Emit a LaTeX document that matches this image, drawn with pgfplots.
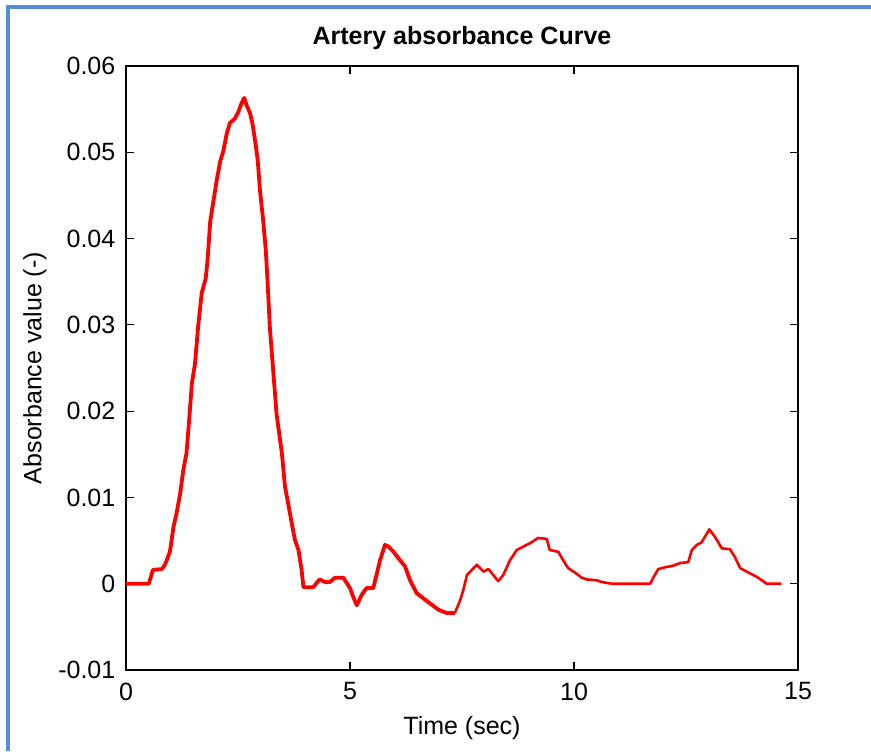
\documentclass[border=0pt]{standalone}
\usepackage{fontspec}
\setmainfont{Liberation Sans}
\usepackage{pgfplots}
\pgfplotsset{compat=1.18}
\definecolor{frameblue}{RGB}{85,142,213}
\begin{document}
\fontsize{12.5}{15}\selectfont
\begin{tikzpicture}
\path[use as bounding box] (0,0) rectangle (435.5pt,375.5pt);
\fill[white] (0,0) rectangle (435.5pt,375.5pt);
\draw[frameblue, line width=2pt] (4pt,0) -- (4pt,373pt);
\draw[frameblue, line width=2pt] (3pt,372pt) -- (435.5pt,372pt);
\begin{axis}[
  at={(63pt,40.5pt)}, anchor=south west,
  scale only axis, width=336pt, height=302pt,
  xmin=0, xmax=15, ymin=-0.01, ymax=0.06,
  xtick={0,5,10,15},
  ytick={-0.01,0,0.01,0.02,0.03,0.04,0.05,0.06},
  scaled y ticks=false,
  yticklabel style={/pgf/number format/fixed, /pgf/number format/precision=2, xshift=-1pt},
  /pgf/number format/assume math mode=true,
  tick align=inside, major tick length=4pt,
  tick style={black, line width=0.6pt},
  axis line style={black, line width=0.6pt},
  xtick pos=both, ytick pos=both,
  xticklabel style={yshift=-2pt},
  every axis title shift=0pt,
  title={\textbf{Artery absorbance Curve}},
  title style={at={(axis description cs:0.5,1.0464)}, anchor=center},
  xlabel={Time (sec)},
  xlabel style={at={(axis description cs:0.5,-0.0961)}, anchor=center},
  ylabel={Absorbance value (-)},
  ylabel style={at={(axis description cs:-0.1354,0.5)}, anchor=center},
]
\addplot[red, line width=1.9pt, line join=round] coordinates {
(0,0) (0.51,0) (0.6,0.0016) (0.80,0.0017) (0.87,0.0022) (0.98,0.0037)
(1.06,0.0066) (1.13,0.0082) (1.21,0.0105) (1.28,0.0132) (1.35,0.0151)
(1.41,0.0190) (1.47,0.0232) (1.54,0.0255) (1.61,0.0298) (1.69,0.0337)
(1.78,0.0354) (1.82,0.0375) (1.88,0.0420) (1.95,0.0443) (2.02,0.0466)
(2.10,0.0489) (2.17,0.0501) (2.25,0.0522) (2.32,0.0534) (2.43,0.0539)
(2.51,0.0547) (2.58,0.0557) (2.64,0.0563) (2.69,0.0555) (2.77,0.0545)
(2.82,0.0534) (2.88,0.0514) (2.94,0.0491) (2.99,0.0456) (3.06,0.0422)
(3.12,0.0387) (3.16,0.0350) (3.21,0.0298) (3.29,0.0244) (3.36,0.0197)
(3.48,0.0151) (3.55,0.0112) (3.62,0.0093) (3.70,0.0070) (3.77,0.0051)
(3.85,0.0039) (3.92,0.0016) (3.96,-0.0004) (4.18,-0.0004) (4.32,0.0005)
(4.44,0.0002) (4.55,0.0002) (4.67,0.0007) (4.85,0.0007) (5.0,-0.0005)
(5.07,-0.0015) (5.15,-0.0025) (5.26,-0.0013) (5.37,-0.0005) (5.52,-0.0005)
(5.60,0.0012) (5.67,0.0027) (5.78,0.0045) (5.86,0.0043) (5.97,0.0037)
(6.12,0.0027) (6.23,0.0020) (6.34,0.0004) (6.49,-0.0011) (6.64,-0.0017)
(6.79,-0.0023) (6.97,-0.0030) (7.16,-0.0034) (7.34,-0.0034)
};
\addplot[red, line width=1.3pt, line join=round] coordinates {
(7.34,-0.0034) (7.46,-0.0019) (7.53,-0.0007) (7.61,0.0010) (7.72,0.0016)
(7.83,0.0022) (7.98,0.0014) (8.09,0.0017) (8.20,0.0010) (8.31,0.0003)
(8.42,0.0010) (8.57,0.0027) (8.72,0.0039) (8.94,0.0045) (9.02,0.0047)
(9.20,0.0053) (9.39,0.0052) (9.46,0.0039) (9.65,0.0037) (9.76,0.0027)
(9.87,0.0018) (10.02,0.0013) (10.17,0.0007) (10.28,0.0005) (10.51,0.0004)
(10.62,0.0002) (10.84,0) (11.70,0) (11.77,0.0007) (11.88,0.0017)
(12.03,0.0019) (12.22,0.0021) (12.37,0.0024) (12.55,0.0025) (12.63,0.0039)
(12.74,0.0045) (12.85,0.0048) (13.02,0.0063) (13.15,0.0054) (13.30,0.0041)
(13.48,0.0040) (13.59,0.0031) (13.71,0.0018) (13.93,0.0012) (14.11,0.0007)
(14.30,0) (14.63,0)
};
\end{axis}
\end{tikzpicture}
\end{document}
